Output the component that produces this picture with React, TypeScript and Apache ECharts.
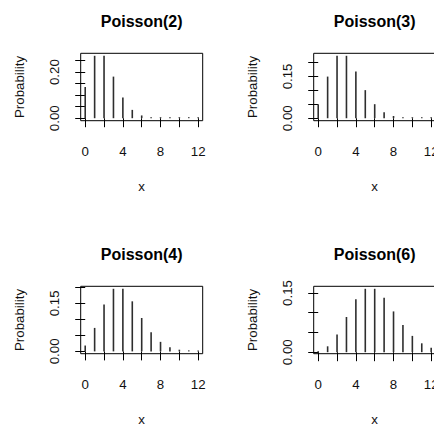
import { useEffect, useRef } from "react";
import * as echarts from "echarts";

// Counts 0..12 and their Poisson probabilities
const counts = [0, 1, 2, 3, 4, 5, 6, 7, 8, 9, 10, 11, 12];
const pois2 = [0.1353, 0.2707, 0.2707, 0.1804, 0.0902, 0.0361, 0.012, 0.0034, 0.0009, 0.0002, 0.0, 0.0, 0.0];
const pois3 = [0.0498, 0.1494, 0.224, 0.224, 0.168, 0.1008, 0.0504, 0.0216, 0.0081, 0.0027, 0.0008, 0.0002, 0.0001];
const pois4 = [0.0183, 0.0733, 0.1465, 0.1954, 0.1954, 0.1563, 0.1042, 0.0595, 0.0298, 0.0132, 0.0053, 0.0019, 0.0006];
const pois6 = [0.0025, 0.0149, 0.0446, 0.0892, 0.1339, 0.1606, 0.1606, 0.1377, 0.1033, 0.0688, 0.0413, 0.0225, 0.0113];

const titles = ["Poisson(2)", "Poisson(3)", "Poisson(4)", "Poisson(6)"];

// Axis ticks and labelled ticks
const xTicks = [0, 2, 4, 6, 8, 10, 12];
const xTickLabels = [0, 4, 8, 12];
const yTicks2 = [0, 0.05, 0.1, 0.15, 0.2, 0.25];
const yTicks3 = [0, 0.05, 0.1, 0.15, 0.2];
const yTicks4 = [0, 0.05, 0.1, 0.15, 0.2];
const yTicks6 = [0, 0.05, 0.1, 0.15];
const yTickLabels2 = [0, 0.2];
const yTickLabels3 = [0, 0.15];
const yTickLabels4 = [0, 0.15];
const yTickLabels6 = [0, 0.15];

const FONT = "'Liberation Sans', Arial, sans-serif";

export default function App() {
  const ref = useRef<HTMLDivElement>(null);

  useEffect(() => {
    if (!ref.current) return;
    const chart = echarts.init(ref.current, undefined, { renderer: "svg" });

    const panels = [
      { values: pois2, yTicks: yTicks2, yLabels: yTickLabels2 },
      { values: pois3, yTicks: yTicks3, yLabels: yTickLabels3 },
      { values: pois4, yTicks: yTicks4, yLabels: yTickLabels4 },
      { values: pois6, yTicks: yTicks6, yLabels: yTickLabels6 },
    ];

    const cellW = 233;
    const cellH = 233;
    const plotLeft = 80.7;
    const plotTop = 53.3;
    const plotW = 122;
    const plotH = 67.4;

    const grids: any[] = [];
    const xAxes: any[] = [];
    const yAxes: any[] = [];
    const series: any[] = [];
    const graphics: any[] = [];

    panels.forEach((p, i) => {
      const col = i % 2;
      const row = Math.floor(i / 2);
      const left = plotLeft + col * cellW;
      const top = plotTop + row * cellH;

      grids.push({
        left,
        top,
        width: plotW,
        height: plotH,
        outerBoundsMode: "none",
        containLabel: false,
        show: true,
        borderColor: "#000",
        borderWidth: 1,
        backgroundColor: "transparent",
      });

      // R-style 4% padding around the data range
      const xLo = Math.min(...counts);
      const xHi = Math.max(...counts);
      const xPad = 0.04 * (xHi - xLo);
      const yLo = Math.min(...p.values);
      const yHi = Math.max(...p.values);
      const yPad = 0.04 * (yHi - yLo);

      xAxes.push({
        gridIndex: i,
        type: "value",
        min: xLo - xPad,
        max: xHi + xPad,
        axisLine: { show: false },
        splitLine: { show: false },
        axisTick: {
          show: true,
          inside: false,
          length: 9,
          customValues: xTicks,
          lineStyle: { color: "#000", width: 1 },
        },
        axisLabel: {
          customValues: xTickLabels,
          margin: 24,
          fontSize: 13.3,
          color: "#111",
          fontFamily: FONT,
          formatter: (v: number) => String(Math.round(v)),
        },
        name: "x",
        nameLocation: "middle",
        nameGap: 59,
        nameTextStyle: { fontSize: 13.3, color: "#111", fontFamily: FONT },
      });

      yAxes.push({
        gridIndex: i,
        type: "value",
        min: yLo - yPad,
        max: yHi + yPad,
        axisLine: { show: false },
        splitLine: { show: false },
        axisTick: {
          show: true,
          inside: false,
          length: 10,
          customValues: p.yTicks,
          lineStyle: { color: "#000", width: 1 },
        },
        axisLabel: {
          customValues: p.yLabels,
          rotate: 90,
          margin: 20,
          fontSize: 13.3,
          color: "#111",
          fontFamily: FONT,
          formatter: (v: number) => v.toFixed(2),
        },
        name: "Probability",
        nameLocation: "middle",
        nameGap: 55,
        nameTextStyle: { fontSize: 13.3, color: "#111", fontFamily: FONT },
      });

      series.push({
        type: "bar",
        xAxisIndex: i,
        yAxisIndex: i,
        barWidth: 1.6,
        barMinHeight: 1,
        itemStyle: { color: "#2e2e2e" },
        data: counts.map((c, k) => [c, p.values[k]]),
        silent: true,
      });

      graphics.push({
        type: "text",
        x: left + plotW / 2,
        y: 21 + row * cellH,
        style: {
          text: titles[i],
          fill: "#000",
          font: `bold 16px ${FONT}`,
          align: "center",
          verticalAlign: "middle",
        },
      });
    });

    chart.setOption({
      animation: false,
      backgroundColor: "#fff",
      grid: grids,
      xAxis: xAxes,
      yAxis: yAxes,
      series,
      graphic: graphics,
    });

    return () => chart.dispose();
  }, []);

  return (
    <div
      ref={ref}
      style={{ position: "absolute", left: 0, top: 0, width: 434, height: 425 }}
    />
  );
}
